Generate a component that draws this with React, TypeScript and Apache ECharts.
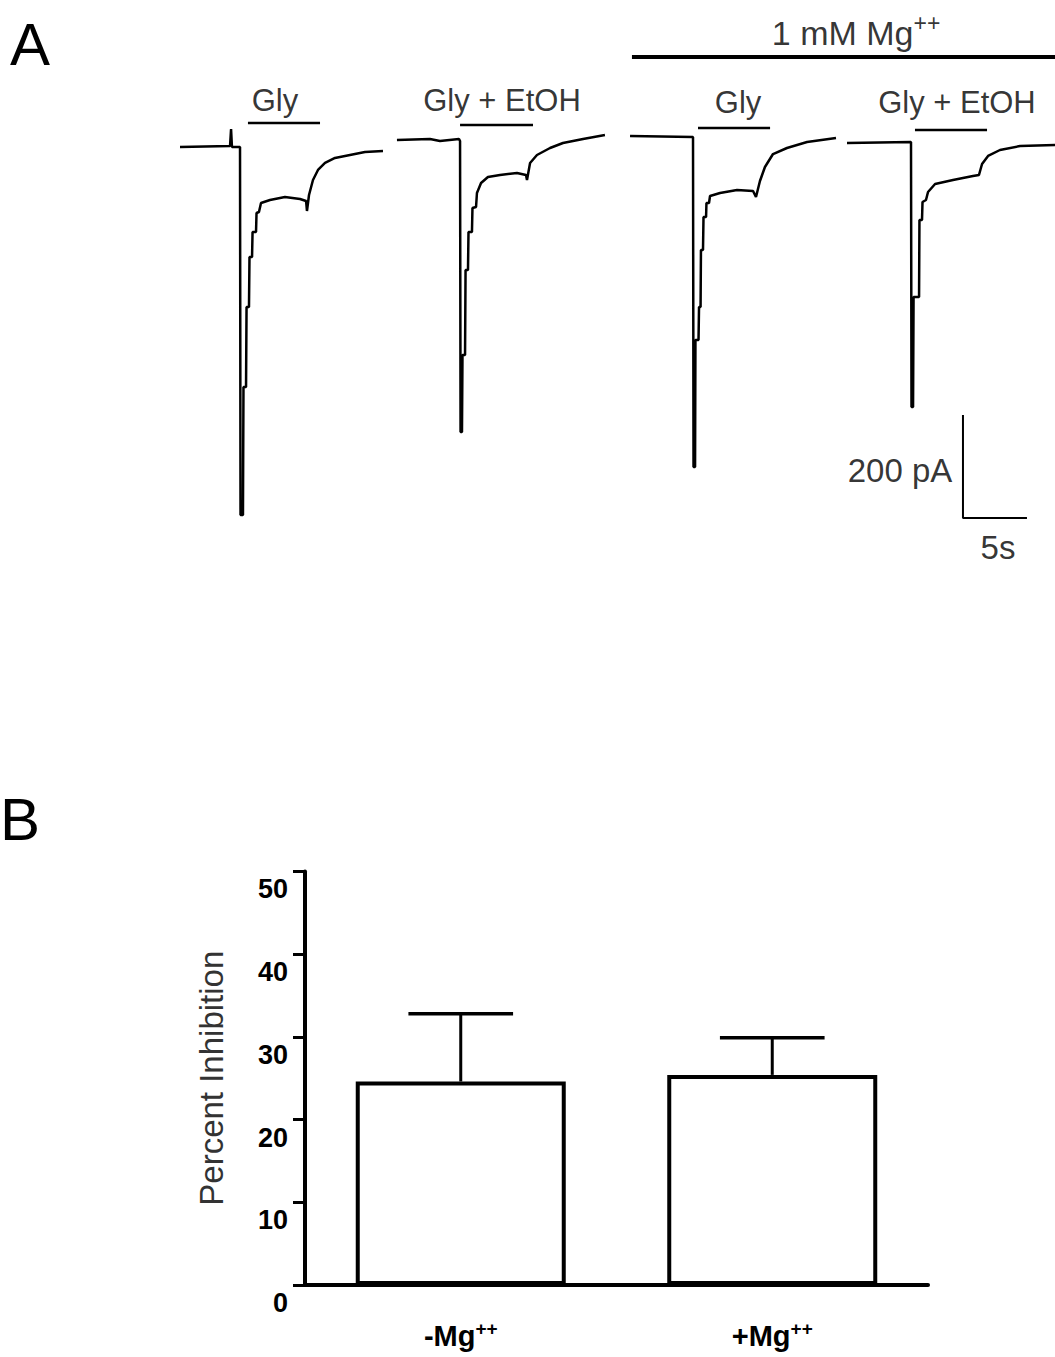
import React, { useEffect, useRef } from 'react';
import * as echarts from 'echarts';

// ---------- Panel A: whole-cell current traces (time in s, current in pA) ----------
const traceGlyNoMg: [number, number][] = [
  [0.78, -11.3], [4.69, -9.3], [4.77, 23.7], [4.84, -11.3], [5.47, -11.3], [5.51, -726.0],
  [5.70, -726.0], [5.74, -477.3], [5.94, -477.3], [5.98, -322.0], [6.17, -322.0], [6.21, -224.9],
  [6.41, -224.9], [6.45, -176.3], [6.72, -176.3], [6.76, -139.4], [6.95, -137.5], [7.11, -120.0],
  [7.81, -114.2], [8.98, -108.3], [10.16, -112.2], [10.63, -116.1], [10.70, -135.5], [10.86, -104.5],
  [11.17, -75.3], [11.56, -55.9], [12.11, -42.3], [12.89, -32.6], [14.06, -26.8], [15.23, -21.0],
  [16.64, -19.0],
];
const traceEtohNoMg: [number, number][] = [
  [17.73, 2.3], [20.31, 4.3], [21.09, 0.4], [22.58, 4.3], [22.66, 0.4], [22.70, -564.7],
  [22.81, -564.7], [22.85, -415.1], [23.05, -415.1], [23.09, -250.1], [23.28, -250.1], [23.32, -176.3],
  [23.59, -176.3], [23.63, -129.7], [23.91, -127.8], [23.98, -100.6], [24.30, -81.2], [24.84, -69.5],
  [25.78, -65.6], [27.11, -61.7], [27.81, -65.6], [27.89, -75.3], [28.13, -42.3], [28.67, -26.8],
  [29.69, -13.2], [30.70, -3.5], [32.27, 4.3], [33.98, 12.0],
];
const traceGlyMg: [number, number][] = [
  [35.94, 10.1], [40.86, 8.2], [40.90, -632.6], [41.02, -632.6], [41.05, -386.0], [41.29, -386.0],
  [41.33, -321.9], [41.45, -321.9], [41.48, -211.3], [41.64, -211.3], [41.68, -147.2], [41.88, -147.2],
  [41.91, -120.0], [42.11, -120.0], [42.19, -106.4], [42.97, -100.6], [44.30, -94.8], [45.55, -96.7],
  [45.78, -108.3], [46.09, -77.3], [46.48, -50.1], [47.11, -24.9], [48.20, -13.2], [49.77, -1.6],
  [52.03, 6.2],
];
const traceEtohMg: [number, number][] = [
  [52.89, -3.5], [57.89, -1.6], [57.93, -516.1], [58.05, -516.1], [58.09, -302.5], [58.52, -302.5],
  [58.55, -153.0], [58.75, -153.0], [58.79, -118.1], [59.06, -114.2], [59.22, -98.6], [59.77, -83.1],
  [61.17, -75.3], [62.73, -67.6], [63.20, -65.6], [63.44, -44.3], [63.91, -28.7], [64.84, -17.1],
  [66.41, -9.3], [69.14, -7.4],
];

// drug application bars
const appLabels = ['Gly', 'Gly + EtOH', 'Gly', 'Gly + EtOH'];
const appStart = [6.09, 22.66, 41.25, 58.2];
const appEnd = [11.72, 28.36, 46.88, 63.83];
const appLevel = [35.3, 31.5, 25.6, 21.7];
const appLabelT = [8.2, 25.94, 44.38, 61.48];
const appLabelPA = [80, 80, 74.2, 74.2];

const mgStart = 36.09;
const mgEnd = 69.14;
const mgLevel = 163.5;
const mgLabelT = 53.6;
const mgLabelPA = 210;

// scale bar
const scaleT0 = 61.95;
const scaleTopPA = -531.7;
const scalePA = 200;
const scaleSec = 5;

// ---------- Panel B: percent inhibition ----------
const categories = ['-Mg', '+Mg'];
const meanInhibition = [24.6, 25.4];
const semInhibition = [8.2, 4.5];
const yTicks = [0, 50, 10];

const FONT = 'Liberation Sans, Arial, Helvetica, sans-serif';

export default function App() {
  const ref = useRef<HTMLDivElement>(null);
  useEffect(() => {
    const chart = echarts.init(ref.current!, null, { renderer: 'svg' });
    const lineSeries = (data: [number, number][], width = 2.5) => ({
      type: 'line',
      xAxisIndex: 0,
      yAxisIndex: 0,
      data,
      symbol: 'none',
      lineStyle: { color: '#000', width },
      silent: true,
    });
    const series: any[] = [
      lineSeries(traceGlyNoMg),
      lineSeries(traceEtohNoMg),
      lineSeries(traceGlyMg),
      lineSeries(traceEtohMg),
    ];
    appStart.forEach((s, i) => {
      series.push(lineSeries([[s, appLevel[i]], [appEnd[i], appLevel[i]]], 2.5));
    });
    series.push(lineSeries([[mgStart, mgLevel], [mgEnd, mgLevel]], 4));
    series.push(
      lineSeries(
        [
          [scaleT0, scaleTopPA],
          [scaleT0, scaleTopPA - scalePA],
          [scaleT0 + scaleSec, scaleTopPA - scalePA],
        ],
        2
      )
    );
    const labelData: any[] = appLabels.map((l, i) => ({ name: l, value: [appLabelT[i], appLabelPA[i]] }));
    labelData.push({ name: 'MG', value: [mgLabelT, mgLabelPA] });
    labelData.push({ name: 'PA', value: [57.03, -638.8] });
    labelData.push({ name: '5s', value: [64.69, -788.0] });
    series.push({
      type: 'scatter',
      xAxisIndex: 0,
      yAxisIndex: 0,
      data: labelData,
      symbolSize: 1,
      itemStyle: { color: 'rgba(0,0,0,0)' },
      silent: true,
      label: {
        show: true,
        position: 'inside',
        color: '#000',
        fontFamily: FONT,
        fontSize: 31,
        formatter: (p: any) =>
          p.name === 'MG' ? '{m|1 mM Mg}{s|++}' : p.name === 'PA' ? '{p|200 pA}' : p.name === '5s' ? '{p|5s}' : p.name,
        rich: {
          m: { fontSize: 34, fontFamily: FONT, color: '#000' },
          p: { fontSize: 33, fontFamily: FONT, color: '#000' },
          s: { fontSize: 23, fontFamily: FONT, color: '#000', verticalAlign: 'top', padding: [0, 0, 20, 0] },
        },
      },
    });

    series.push({
      type: 'bar',
      xAxisIndex: 1,
      yAxisIndex: 1,
      data: meanInhibition,
      barWidth: 210,
      itemStyle: { color: '#fff', borderColor: '#000', borderWidth: 4 },
      silent: true,
    });
    series.push({
      type: 'custom',
      xAxisIndex: 1,
      yAxisIndex: 1,
      data: meanInhibition.map((m, i) => [i, m, m + semInhibition[i]]),
      silent: true,
      renderItem: (params: any, api: any) => {
        const idx = api.value(0);
        const base = api.coord([idx, api.value(1)]);
        const top = api.coord([idx, api.value(2)]);
        const half = api.size([1, 0])[0] * 0.168;
        return {
          type: 'group',
          children: [
            { type: 'line', shape: { x1: top[0], y1: top[1], x2: base[0], y2: base[1] }, style: { stroke: '#000', lineWidth: 3 } },
            { type: 'line', shape: { x1: top[0] - half, y1: top[1], x2: top[0] + half, y2: top[1] }, style: { stroke: '#000', lineWidth: 3.5 } },
          ],
        };
      },
    });

    chart.setOption({
      animation: false,
      backgroundColor: '#fff',
      graphic: [
        { type: 'text', x: 10, y: 14, style: { text: 'A', font: `60px ${FONT}`, fill: '#000' } },
        { type: 'text', x: 0, y: 789, style: { text: 'B', font: `60px ${FONT}`, fill: '#000' } },
      ],
      grid: [
        { left: 170, width: 885, top: 17.6, height: 597.4 },
        { left: 305, width: 623, top: 871.4, height: 413.6 },
      ],
      xAxis: [
        { type: 'value', gridIndex: 0, min: 0, max: 69.14, show: false },
        {
          type: 'category',
          gridIndex: 1,
          data: categories,
          axisLine: { lineStyle: { color: '#000', width: 4 } },
          axisTick: { alignWithLabel: true, length: 12, lineStyle: { color: '#000', width: 4 } },
          axisLabel: {
            margin: 34,
            formatter: (v: string) => `{b|${v}}{s|++}`,
            rich: {
              b: { fontSize: 29, fontWeight: 'bold', fontFamily: FONT, color: '#000' },
              s: { fontSize: 19, fontWeight: 'bold', fontFamily: FONT, color: '#000', verticalAlign: 'top', padding: [0, 0, 14, 0] },
            },
          },
        },
      ],
      yAxis: [
        { type: 'value', gridIndex: 0, min: -920, max: 240, show: false },
        {
          type: 'value',
          gridIndex: 1,
          min: yTicks[0],
          max: yTicks[1],
          interval: yTicks[2],
          splitLine: { show: false },
          axisLine: { show: true, lineStyle: { color: '#000', width: 4 } },
          axisTick: { show: true, length: 12, lineStyle: { color: '#000', width: 3 } },
          axisLabel: {
            margin: 17,
            fontSize: 27,
            fontWeight: 'bold',
            fontFamily: FONT,
            color: '#000',
            verticalAlign: 'top',
            lineHeight: 36,
          },
          name: 'Percent Inhibition',
          nameLocation: 'middle',
          nameGap: 77,
          nameTextStyle: { fontSize: 33, fontFamily: FONT, color: '#333' },
        },
      ],
      series,
    });
    return () => chart.dispose();
  }, []);
  return (
    <div
      ref={ref}
      style={{ position: 'absolute', left: 0, top: 0, width: 1055, height: 1357, background: '#fff' }}
    />
  );
}
